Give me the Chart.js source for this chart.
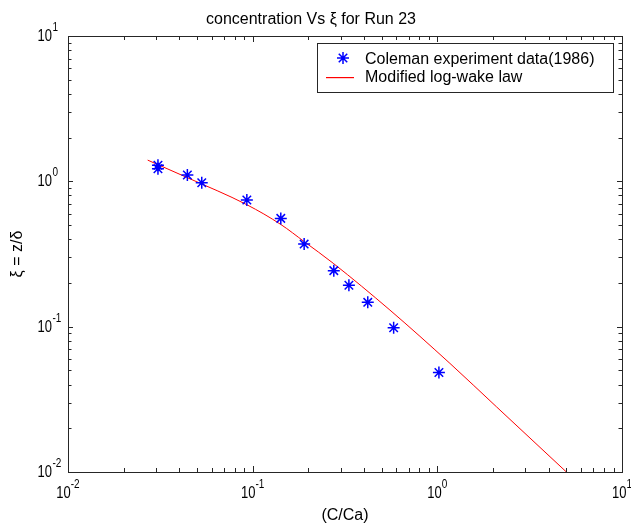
<!DOCTYPE html>
<html>
<head>
<meta charset="utf-8">
<script src="https://cdn.jsdelivr.net/npm/chart.js@4.4.1/dist/chart.umd.min.js"></script>
<style>
  html, body { margin: 0; padding: 0; background: #fff; }
</style>
</head>
<body>
<canvas id="grafico" width="631" height="525"></canvas>
<script>
// datos (Run 23)
const colemanX = [0.0307, 0.0307, 0.0443, 0.053, 0.093, 0.142, 0.19, 0.275, 0.332, 0.42, 0.58, 1.02];
const colemanY = [1.29, 1.22, 1.105, 0.978, 0.743, 0.556, 0.370, 0.243, 0.193, 0.147, 0.0984, 0.0484];

// curva log-wake modificada
const curvaX = [0.027, 0.0443, 0.0931, 0.142, 0.19, 0.273, 0.554, 1.17, 2.09, 5.0];
const curvaY = [1.40, 1.06, 0.69, 0.505, 0.385, 0.273, 0.130, 0.0559, 0.0281, 0.010];

// ticks
const decadas = [0.01, 0.1, 1, 10];
const exponentes = ['-2', '-1', '0', '1'];
const menores = [];
for (let i = 0; i < decadas.length - 1; i++) {
    for (let k = 2; k <= 9; k++) menores.push(k * decadas[i]);
}

const etiquetas = ['Coleman experiment data(1986)', 'Modified log-wake law'];

const FUENTE = '"Liberation Sans", Arial, sans-serif';
Chart.defaults.font.family = FUENTE;
Chart.defaults.color = '#000';

const estrella = { pointStyle: 'star', radius: 6, borderWidth: 1.5, color: '#0000ff' };
const rojo = '#ff0000';

// dibuja el marco estilo matlab: caja, ticks hacia adentro, etiquetas 10^n y leyenda
const marcoMatlab = {
    id: 'marcoMatlab',
    afterDraw(chart) {
        const { ctx, chartArea: a, scales: { x, y } } = chart;
        ctx.save();
        ctx.strokeStyle = '#262626';
        ctx.lineWidth = 1;

        ctx.beginPath();
        const todos = decadas.concat(menores);
        for (const v of todos) {
            const mayor = decadas.includes(v);
            const px = Math.round(x.getPixelForValue(v)) + 0.5;
            const lx = mayor ? 6 : 4;
            ctx.moveTo(px, a.bottom); ctx.lineTo(px, a.bottom - lx);
            ctx.moveTo(px, a.top); ctx.lineTo(px, a.top + lx);
            const py = Math.round(y.getPixelForValue(v)) + 0.5;
            const ly = mayor ? 5 : 3.5;
            ctx.moveTo(a.left, py); ctx.lineTo(a.left + ly, py);
            ctx.moveTo(a.right, py); ctx.lineTo(a.right - ly, py);
        }
        ctx.stroke();
        ctx.strokeRect(Math.round(a.left) + 0.5, Math.round(a.top) + 0.5,
            Math.round(a.right - a.left), Math.round(a.bottom - a.top));

        // etiquetas de los ticks (10 con exponente)
        ctx.fillStyle = '#000';
        ctx.textBaseline = 'alphabetic';
        const base = '13px ' + FUENTE;
        const sup = '10px ' + FUENTE;
        function texto(t, f, px, py) {
            ctx.save();
            ctx.font = f;
            ctx.translate(px, py);
            ctx.scale(1, 1.2);
            ctx.textAlign = 'left';
            ctx.fillText(t, 0, 0);
            ctx.restore();
        }
        decadas.forEach((d, i) => {
            ctx.font = base;
            const wb = ctx.measureText('10').width;
            ctx.font = sup;
            const we = ctx.measureText(exponentes[i]).width;
            // eje x
            const px = x.getPixelForValue(d);
            const x0 = px - (wb + we) / 2;
            texto('10', base, x0, a.bottom + 25.5);
            texto(exponentes[i], sup, x0 + wb, a.bottom + 15.5);
            // eje y
            const py = y.getPixelForValue(d);
            const xr = a.left - 16;
            texto('10', base, xr - wb, py + 5);
            texto(exponentes[i], sup, xr + 0.5, py - 5);
        });

        // leyenda
        const lx0 = 317.5, ly0 = 43.5, lw = 296, lh = 49;
        ctx.fillStyle = '#fff';
        ctx.fillRect(lx0, ly0, lw, lh);
        ctx.strokeStyle = '#262626';
        ctx.strokeRect(lx0, ly0, lw, lh);
        ctx.strokeStyle = estrella.color;
        ctx.fillStyle = estrella.color;
        ctx.lineWidth = estrella.borderWidth;
        Chart.helpers.drawPoint(ctx, {
            pointStyle: estrella.pointStyle, radius: estrella.radius, borderWidth: estrella.borderWidth
        }, 343, 58);
        ctx.fillStyle = rojo;
        ctx.fillRect(326, 77, 28, 1.2);
        ctx.fillStyle = '#000';
        ctx.font = '16px ' + FUENTE;
        ctx.textAlign = 'left';
        ctx.fillText(etiquetas[0], 365, 63.5);
        ctx.fillText(etiquetas[1], 365, 82);
        ctx.restore();
    }
};

const grafico = new Chart(document.getElementById('grafico').getContext('2d'), {
    type: 'scatter',
    data: {
        datasets: [
            {
                label: etiquetas[0],
                data: colemanX.map((v, i) => ({ x: v, y: colemanY[i] })),
                pointStyle: estrella.pointStyle,
                pointRadius: estrella.radius,
                pointBorderWidth: estrella.borderWidth,
                borderColor: estrella.color,
                backgroundColor: estrella.color,
                showLine: false
            },
            {
                label: etiquetas[1],
                data: curvaX.map((v, i) => ({ x: v, y: curvaY[i] })),
                showLine: true,
                borderColor: rojo,
                borderWidth: 1,
                pointRadius: 0,
                cubicInterpolationMode: 'monotone'
            }
        ]
    },
    options: {
        responsive: false,
        animation: false,
        layout: { padding: { left: 0, right: 9, top: 0, bottom: 0 } },
        plugins: {
            legend: { display: false },
            tooltip: { enabled: false },
            title: {
                display: true,
                text: 'concentration Vs ξ for Run 23',
                color: '#000',
                font: { size: 16, weight: 'normal' },
                padding: { top: 10.4, bottom: 6.4 }
            }
        },
        scales: {
            x: {
                type: 'logarithmic',
                min: 0.01,
                max: 10,
                grid: { display: false },
                border: { display: false },
                ticks: { display: false },
                title: { display: true, text: '(C/Ca)', color: '#000', font: { size: 16 }, padding: { top: 0, bottom: 0 } },
                afterFit: (s) => { s.height = 53; }
            },
            y: {
                type: 'logarithmic',
                min: 0.01,
                max: 10,
                grid: { display: false },
                border: { display: false },
                ticks: { display: false },
                title: { display: true, text: 'ξ = z/δ', color: '#000', font: { size: 16 }, padding: { top: 8, bottom: 0 } },
                afterFit: (s) => { s.width = 68; }
            }
        }
    },
    plugins: [marcoMatlab]
});
</script>
</body>
</html>
